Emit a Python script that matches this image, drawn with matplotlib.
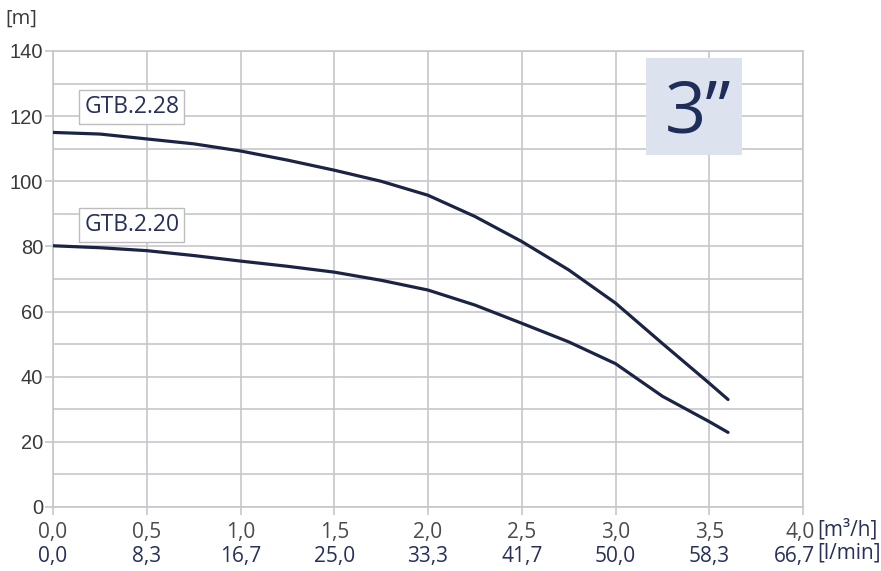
import matplotlib.pyplot as plt
import matplotlib.transforms as mtransforms
import numpy as np

# pump curves
q = [0.0, 0.25, 0.5, 0.75, 1.0, 1.25, 1.5, 1.75, 2.0, 2.25, 2.5, 2.75, 3.0, 3.25, 3.5, 3.6]
h_228 = [115, 114.5, 113, 111.5, 109.3, 106.5, 103.4, 100, 95.7, 89.2, 81.5, 72.8, 62.6, 50.2, 38, 33]
h_220 = [80.2, 79.6, 78.7, 77.2, 75.5, 73.9, 72.1, 69.6, 66.6, 62, 56.4, 50.7, 44, 34, 26.2, 22.9]

xticks = [0.0, 0.5, 1.0, 1.5, 2.0, 2.5, 3.0, 3.5, 4.0]
xlab_m3h = ["0,0", "0,5", "1,0", "1,5", "2,0", "2,5", "3,0", "3,5", "4,0"]
xlab_lmin = ["0,0", "8,3", "16,7", "25,0", "33,3", "41,7", "50,0", "58,3", "66,7"]
yticks = [0, 20, 40, 60, 80, 100, 120, 140]

navy = "#1b2444"
grid = "#c6c6cc"
txt = "#26305a"
gray_txt = "#4a4a50"

fig = plt.figure(figsize=(8.81, 5.71), dpi=100)
ax = fig.add_axes([0.0602, 0.1121, 0.8513, 0.7986])

ax.plot(q, h_228, color=navy, lw=2.3, solid_capstyle="round", solid_joinstyle="round", zorder=3)
ax.plot(q, h_220, color=navy, lw=2.3, solid_capstyle="round", solid_joinstyle="round", zorder=3)

ax.set_xlim(0, 4.0)
ax.set_ylim(0, 140)
ax.set_xticks(xticks)
ax.set_xticklabels(xlab_m3h, fontsize=15, color=gray_txt, family="Open Sans")
ax.set_yticks(yticks)
ax.set_yticklabels([str(v) for v in yticks], fontsize=14.5, color="#3a3a3a",
                   family="Liberation Sans")
ax.set_yticks(np.arange(0, 141, 10), minor=True)
ax.tick_params(axis="x", which="major", length=6, color=grid, width=1.2, pad=5)
ax.tick_params(axis="y", which="major", length=6, color=grid, width=1.2, pad=1)
ax.tick_params(axis="y", which="minor", length=0)
ax.grid(True, which="both", color=grid, lw=1.2)
for s in ax.spines.values():
    s.set_color(grid)
    s.set_linewidth(1.2)

# second row of flow labels in l/min
sec = ax.secondary_xaxis("bottom")
sec.set_xticks(xticks)
sec.set_xticklabels(xlab_lmin, fontsize=15, color=txt, family="Open Sans")
sec.tick_params(length=0, pad=28)
sec.spines["bottom"].set_visible(False)

# last labels sit right-aligned just past the 4.0 grid line, left of the units
shift = mtransforms.ScaledTranslation(12 / 100, 0, fig.dpi_scale_trans)
for lab in (ax.get_xticklabels()[-1], sec.get_xticklabels()[-1]):
    lab.set_horizontalalignment("right")
    lab.set_transform(lab.get_transform() + shift)

box = dict(boxstyle="square,pad=0.22", fc="white", ec="#bdbdbd", lw=1.0)
ax.text(0.42, 122.8, "GTB.2.28", fontsize=16.5, color=txt, family="Open Sans",
        ha="center", va="center", bbox=box, zorder=4)
ax.text(0.42, 86.6, "GTB.2.20", fontsize=16.5, color=txt, family="Open Sans",
        ha="center", va="center", bbox=box, zorder=4)

# "3”" badge
ax.add_patch(plt.Rectangle((3.165, 108.2), 0.51, 29.5, fc="#dde3ee", ec="none", zorder=4))
ax.text(3.44, 120.8, "3”", fontsize=52, color="#1f2d5a", family="Open Sans",
        ha="center", va="center", zorder=5)

fig.text(0.006, 0.968, "[m]", fontsize=14.5, color="#3a3a3a", family="Open Sans",
         ha="left", va="center")
fig.text(0.928, 0.073, "[m³/h]", fontsize=15, color=txt, family="Open Sans",
         ha="left", va="center")
fig.text(0.928, 0.031, "[l/min]", fontsize=15, color=txt, family="Open Sans",
         ha="left", va="center")

fig.savefig("out.png", dpi=100)
